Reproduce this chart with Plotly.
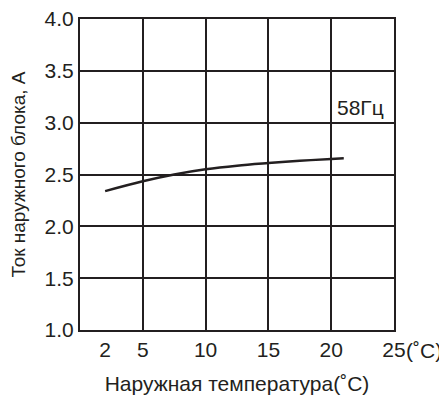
import plotly.graph_objects as go

# outdoor temperature (C) vs outdoor unit current (A), 58 Hz
temp = [2, 5, 7.5, 10, 12.5, 15, 17.5, 20, 21]
current = [2.34, 2.435, 2.50, 2.55, 2.585, 2.61, 2.632, 2.65, 2.656]

x_ticks = [2, 5, 10, 15, 20, 25]
x_ticktext = ['2', '5', '10', '15', '20', '25']
y_ticks = [1.0, 1.5, 2.0, 2.5, 3.0, 3.5, 4.0]

ink = '#231f20'
font = dict(family='Liberation Sans, Arial, sans-serif', size=21, color=ink)
title_font = dict(family='Liberation Sans, Arial, sans-serif', size=19, color=ink)

fig = go.Figure()
fig.add_trace(go.Scatter(
    x=temp, y=current, mode='lines',
    line=dict(color=ink, width=2.5, shape='spline'),
    hoverinfo='skip', showlegend=False))
# empty trace so the grid axis gets drawn
fig.add_trace(go.Scatter(x=[0], y=[1], xaxis='x2', mode='none',
                         hoverinfo='skip', showlegend=False))

fig.add_annotation(x=22.3, y=3.15, text='58Гц', showarrow=False,
                   font=font, xanchor='center', yanchor='middle')
fig.add_annotation(x=25, y=0, xref='x', yref='paper', text='(˚C)',
                   showarrow=False, font=font, xanchor='left', yanchor='top',
                   xshift=10, yshift=-7)

# page body has an 8px margin, so the figure is sized to fit the window
fig.update_layout(
    width=439, height=393,
    margin=dict(l=72, r=53, t=11, b=71),
    paper_bgcolor='white', plot_bgcolor='white',
    font=font,
    xaxis=dict(range=[0, 25], tickvals=x_ticks, ticktext=x_ticktext,
               showgrid=False, zeroline=False, ticks='', automargin=False,
               ticklabeloverflow='allow',
               showline=True, mirror=True, linecolor=ink, linewidth=2,
               title=dict(text='Наружная температура(˚C)', font=font, standoff=16)),
    xaxis2=dict(range=[0, 25], overlaying='x', dtick=5, tick0=0,
                showgrid=True, gridcolor=ink, gridwidth=2, automargin=False,
                showticklabels=False, zeroline=False, showline=False),
    yaxis=dict(range=[1, 4], tickvals=y_ticks, tickformat='.1f', automargin=False,
               ticklabeloverflow='allow',
               showgrid=True, gridcolor=ink, gridwidth=2, zeroline=False,
               ticks='', showline=True, mirror=True, linecolor=ink, linewidth=2,
               title=dict(text='Ток наружного блока, А', font=title_font, standoff=17)),
)

fig.write_html('out.html')
